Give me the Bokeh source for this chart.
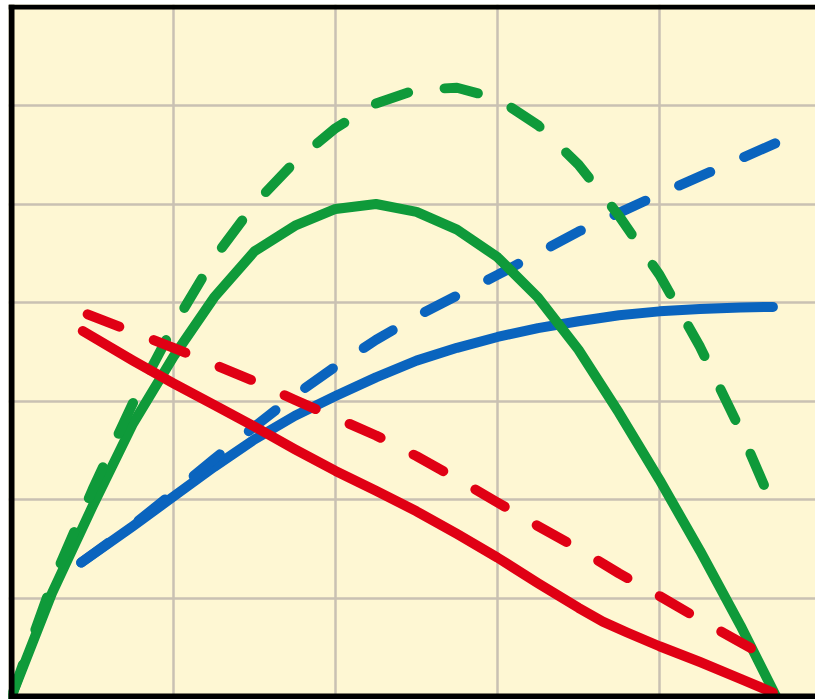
from bokeh.plotting import figure
from bokeh.models import Range1d, Grid, FixedTicker, Span
from bokeh.embed import file_html
from bokeh.resources import INLINE

# grid positions (data units)
x_grid_ticks = [1, 2, 3, 4]
y_grid_ticks = [1, 2, 3, 4, 5, 6]
y_top = 7

# green solid curve
green_solid_x = [0.0, 0.25, 0.5, 0.75, 1.0, 1.25, 1.5, 1.75, 2.0, 2.25, 2.5, 2.75, 3.0, 3.25, 3.5, 3.75, 4.0, 4.25, 4.5, 4.72]
green_solid_y = [0.0, 1.05, 1.93, 2.77, 3.45, 4.05, 4.52, 4.78, 4.95, 5.0, 4.92, 4.74, 4.46, 4.05, 3.52, 2.88, 2.2, 1.48, 0.72, 0.0]

# green dashed curve
green_dash_x = [0.0, 0.25, 0.5, 0.75, 1.0, 1.25, 1.5, 1.75, 2.0, 2.25, 2.5, 2.75, 3.0, 3.25, 3.5, 3.75, 4.0, 4.25, 4.5, 4.72]
green_dash_y = [0.0, 1.15, 2.1, 2.98, 3.76, 4.45, 5.0, 5.43, 5.77, 6.02, 6.16, 6.18, 6.07, 5.8, 5.4, 4.88, 4.28, 3.55, 2.7, 1.86]

# blue solid curve
blue_solid_x = [0.43, 0.75, 1.0, 1.25, 1.5, 1.75, 2.0, 2.25, 2.5, 2.75, 3.0, 3.25, 3.5, 3.75, 4.0, 4.25, 4.5, 4.70]
blue_solid_y = [1.36, 1.73, 2.03, 2.33, 2.61, 2.85, 3.05, 3.24, 3.41, 3.54, 3.65, 3.74, 3.81, 3.87, 3.91, 3.935, 3.95, 3.955]

# blue dashed curve
blue_dash_x = [0.43, 0.75, 1.0, 1.25, 1.5, 1.75, 2.0, 2.25, 2.5, 2.75, 3.0, 3.25, 3.5, 3.75, 4.0, 4.25, 4.5, 4.72]
blue_dash_y = [1.36, 1.74, 2.07, 2.41, 2.74, 3.06, 3.35, 3.62, 3.86, 4.07, 4.28, 4.50, 4.72, 4.91, 5.10, 5.28, 5.46, 5.62]

# red solid curve
red_solid_x = [0.44, 0.75, 1.0, 1.25, 1.5, 1.75, 2.0, 2.25, 2.5, 2.75, 3.0, 3.25, 3.5, 3.65, 3.8, 4.0, 4.25, 4.5, 4.70]
red_solid_y = [3.71, 3.41, 3.18, 2.96, 2.74, 2.51, 2.29, 2.09, 1.88, 1.65, 1.41, 1.15, 0.90, 0.76, 0.65, 0.51, 0.35, 0.18, 0.04]

# red dashed curve
red_dash_x = [0.47, 0.75, 1.0, 1.25, 1.5, 1.75, 2.0, 2.25, 2.5, 2.75, 3.0, 3.25, 3.5, 3.75, 4.0, 4.25, 4.5, 4.64]
red_dash_y = [3.88, 3.70, 3.54, 3.37, 3.20, 3.01, 2.83, 2.65, 2.44, 2.21, 1.97, 1.73, 1.50, 1.25, 1.02, 0.78, 0.55, 0.42]

GREEN = "#0F9A3A"
BLUE = "#0A64BE"
RED = "#E00014"
DASH = "34 37"
LW = 10

PX_X = 162.0   # pixels per x unit
PX_Y = 98.5    # pixels per y unit

p = figure(width=815, height=699, output_backend="svg", toolbar_location=None,
           title=None, x_axis_location=None, y_axis_location=None,
           x_range=Range1d(-3 / PX_X, 804 / PX_X),
           y_range=Range1d(-3 / PX_Y, 692 / PX_Y),
           min_border_left=8, min_border_right=0, min_border_top=4, min_border_bottom=0,
           background_fill_color="#FEF7D3", border_fill_color="white",
           outline_line_color=None)

grid_color = "#C9C1B3"
p.add_layout(Grid(dimension=0, ticker=FixedTicker(ticks=x_grid_ticks),
                  grid_line_color=grid_color, grid_line_width=2.5))
p.add_layout(Grid(dimension=1, ticker=FixedTicker(ticks=y_grid_ticks),
                  grid_line_color=grid_color, grid_line_width=2.5))

common = dict(line_width=LW, line_cap="round", line_join="round")
p.line(blue_solid_x, blue_solid_y, line_color=BLUE, **common)
p.line(blue_dash_x, blue_dash_y, line_color=BLUE, line_dash=DASH, **common)
p.line(green_solid_x, green_solid_y, line_color=GREEN, **common)
p.line(green_dash_x, green_dash_y, line_color=GREEN, line_dash=DASH, **common)
p.line(red_solid_x, red_solid_y, line_color=RED, **common)
p.line(red_dash_x, red_dash_y, line_color=RED, line_dash=DASH, **common)

p.add_layout(Span(location=0, dimension="height", line_color="black", line_width=6))
p.add_layout(Span(location=0, dimension="width", line_color="black", line_width=6))
p.add_layout(Span(location=y_top, dimension="width", line_color="black", line_width=5))

open("out.html", "w").write(file_html(p, INLINE))
